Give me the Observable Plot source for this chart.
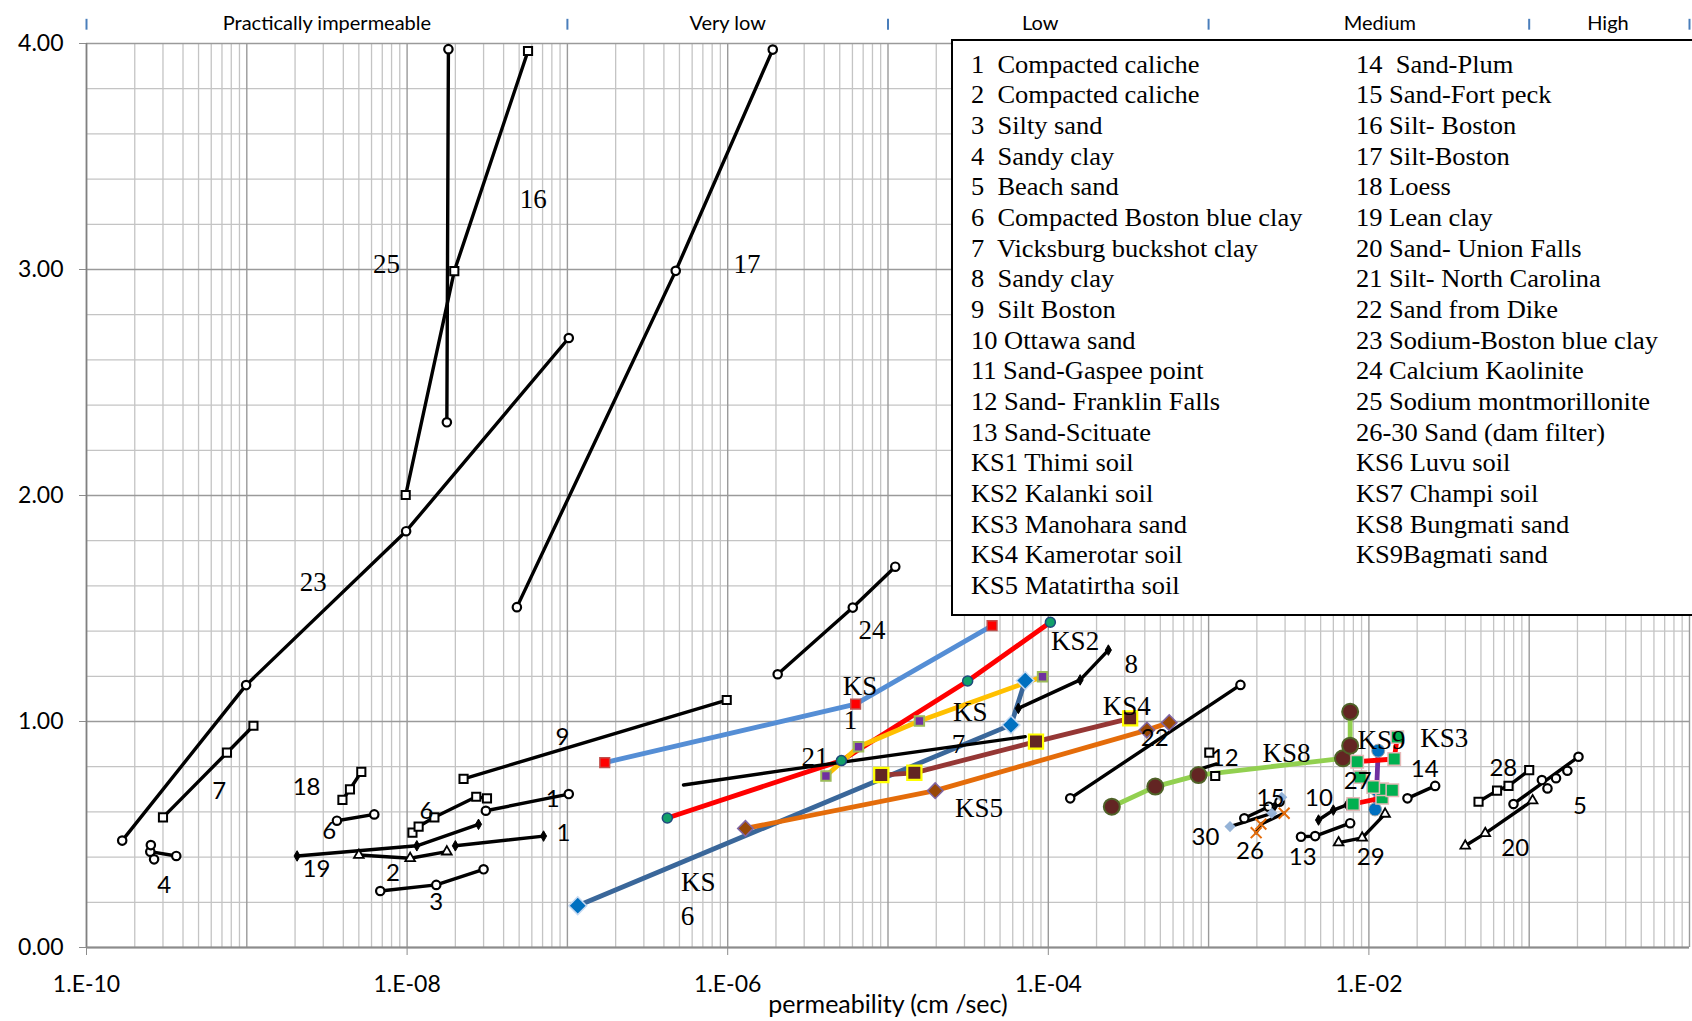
<!DOCTYPE html>
<html><head><meta charset="utf-8">
<script src="https://cdn.jsdelivr.net/npm/d3@7"></script>
<script src="https://cdn.jsdelivr.net/npm/@observablehq/plot@0.6"></script>
<style>
html,body{margin:0;padding:0;background:#fff;}
#wrap{position:relative;width:1692px;height:1021px;overflow:hidden;}
#legend{position:absolute;left:951px;top:39px;width:760px;height:573px;border:2px solid #000;background:#fff;
  font-family:"Liberation Serif","Times New Roman",serif;font-size:24.5px;line-height:30.66px;color:#000;}
#legend .col{position:absolute;top:8.7px;white-space:pre;transform:scaleX(1.08);transform-origin:0 0;}
#chart svg g[aria-label="x-axis"] line, #chart svg g[aria-label="y-axis"] line,
#chart svg g[aria-label="x-axis tick"] path, #chart svg g[aria-label="y-axis tick"] path{stroke:#8c8c8c;}
</style></head><body>
<div id="wrap"><div id="chart"></div>
<div id="legend"><div class="col" id="lc" style="left:18px"></div><div class="col" id="rc" style="left:403px"></div></div>
</div>
<script>
// ---------- axis / band data ----------
const xTicks = [1e-10, 1e-8, 1e-6, 1e-4, 1e-2];
const yTicks = [0, 1, 2, 3, 4];
const bandEdges = [1e-10, 1e-7, 1e-5, 1e-3, 1e-1, 1];
const bandLabels = ["Practically impermeable", "Very low", "Low", "Medium", "High"];
const bandCenters = [3.16e-9, 1.0e-6, 8.9e-5, 1.17e-2, 0.31];

// ---------- series: [permeability (cm/s), y] ----------
const s1a = [[3.1e-8,0.605],[1.02e-7,0.679]];
const s1b = [[2.0e-8,0.450],[7.1e-8,0.493]];
const s2  = [[5.0e-9,0.409],[1.045e-8,0.395],[1.77e-8,0.424]];
const s3  = [[6.8e-9,0.250],[1.52e-8,0.277],[3.0e-8,0.346]];
const s4  = [[2.5e-10,0.424],[3.63e-10,0.405]];
const s4pts = [[2.52e-10,0.453],[2.64e-10,0.390]];
const s5  = [[0.0798,0.635],[0.203,0.844]];
const s5pts = [[0.120,0.741],[0.130,0.704],[0.147,0.749],[0.173,0.782]];
const s6a = [[3.65e-9,0.561],[6.24e-9,0.589]];
const s6b = [[1.08e-8,0.508],[1.18e-8,0.535],[1.48e-8,0.576],[2.70e-8,0.667],[3.15e-8,0.660]];
const s7  = [[3.0e-10,0.576],[7.52e-10,0.862],[1.10e-9,0.981]];
const s8  = [[6.5e-5,1.058],[1.58e-4,1.184],[2.37e-4,1.316]];
const s9  = [[2.25e-8,0.746],[9.86e-7,1.095]];
const s10 = [[4.85e-3,0.564],[6.0e-3,0.608],[7.3e-3,0.631]];
const s12 = [[7.87e-4,0.778],[1.12e-3,0.812]];
const s12pts = [[1.01e-3,0.862],[1.10e-3,0.759]];
const s13 = [[3.77e-3,0.490],[4.62e-3,0.493],[7.64e-3,0.550]];
const s14 = [[0.0174,0.660],[0.0259,0.715]];
const s15 = [[1.67e-3,0.572],[2.37e-3,0.623],[2.77e-3,0.645]];
const s16 = [[9.8e-9,2.002],[1.97e-8,2.993],[5.68e-8,3.967]];
const s17 = [[4.84e-8,1.506],[4.74e-7,2.994],[1.91e-6,3.973]];
const s18 = [[3.95e-9,0.653],[4.40e-9,0.700],[5.18e-9,0.777]];
const s19 = [[2.06e-9,0.405],[1.15e-8,0.450],[2.79e-8,0.545]];
const s20 = [[0.0399,0.450],[0.0532,0.505],[0.105,0.650]];
const s21 = [[5.3e-7,0.719],[2.29e-6,0.785],[7.18e-5,0.933]];
const s22 = [[1.37e-4,0.660],[1.58e-3,1.162]];
const s23 = [[1.67e-10,0.473],[9.9e-10,1.161],[9.86e-9,1.842],[1.02e-7,2.697]];
const s24 = [[2.05e-6,1.209],[6.03e-6,1.504],[1.11e-5,1.685]];
const s25 = [[1.81e-8,3.975],[1.77e-8,2.324]];
const s26 = [[1.98e-3,0.508],[2.12e-3,0.546],[2.96e-3,0.594]];
const s28 = [[0.0483,0.645],[0.0630,0.694],[0.0743,0.715],[0.100,0.785]];
const s29 = [[6.47e-3,0.464],[9.08e-3,0.485],[0.01262,0.591]];
const s30 = [[1.36e-3,0.535],[2.48e-3,0.594],[2.86e-3,0.665]];
const ks1 = [[1.71e-7,0.818],[6.28e-6,1.077],[4.46e-5,1.424]];
const ks2 = [[4.2e-7,0.573],[5.12e-6,0.827],[3.14e-5,1.179],[1.03e-4,1.439]];
const ks3a = [[8.45e-3,0.822],[0.01439,0.834],[0.01503,0.931]];
const ks3b = [[7.98e-3,0.635],[0.0121,0.662],[0.0121,0.700]];
const ks3pts = [[0.01064,0.710],[0.0140,0.696],[8.83e-3,0.754]];
const ks4 = [[9.08e-6,0.763],[1.46e-5,0.773],[8.38e-5,0.911],[3.24e-4,1.014]];
const ks5 = [[1.29e-6,0.527],[1.97e-5,0.694],[4.12e-4,0.962],[5.68e-4,0.995]];
const ks6 = [[1.16e-7,0.185],[5.85e-5,0.985],[7.18e-5,1.181]];
const ks7 = [[4.1e-6,0.759],[6.55e-6,0.888],[1.57e-5,1.002],[9.2e-5,1.198]];
const ks8 = [[2.49e-4,0.623],[4.65e-4,0.712],[8.65e-4,0.763],[6.89e-3,0.837],[7.64e-3,0.893],[7.64e-3,1.043]];
const ks9 = [[0.01143,0.871],[0.01117,0.697],[0.01092,0.611]];

// ---------- in-chart labels ----------
const serifLabels = [
  ["25",7.45e-9,3.023],["16",6.12e-8,3.309],["17",1.32e-6,3.023],["23",2.6e-9,1.614],
  ["24",7.96e-6,1.404],["21",3.5e-6,0.841],["8",3.29e-4,1.251],
  ["KS",6.7e-6,1.156],["1",5.83e-6,1.003],["KS2",1.47e-4,1.356],
  ["KS",3.26e-5,1.041],["7",2.75e-5,0.898],["KS4",3.09e-4,1.065],["KS5",3.7e-5,0.616],
  ["KS",6.56e-7,0.287],["6",5.62e-7,0.139],["KS8",3.06e-3,0.860],["KS9",0.0120,0.917],["KS3",0.0295,0.925]
];
const sansLabels = [
  ["9",9.3e-8,0.931],["7",6.73e-10,0.692],["4",3.05e-10,0.277],["18",2.36e-9,0.711],
  ["6",3.27e-9,0.516],["6",1.32e-8,0.602],["19",2.72e-9,0.344],["2",8.17e-9,0.330],
  ["3",1.52e-8,0.201],["1",8.09e-8,0.654],["1",9.46e-8,0.507],["22",4.61e-4,0.927],
  ["12",1.26e-3,0.836],["27",8.51e-3,0.735],["14",0.0223,0.790],["28",0.069,0.793],
  ["5",0.2075,0.626],["20",0.0818,0.439],["15",2.43e-3,0.659],["30",9.57e-4,0.487],
  ["26",1.81e-3,0.425],["10",4.88e-3,0.659],["13",3.86e-3,0.401],["29",0.01026,0.401]
];

// ---------- legend text ----------
const legendLeft = ["1  Compacted caliche","2  Compacted caliche","3  Silty sand","4  Sandy clay","5  Beach sand",
  "6  Compacted Boston blue clay","7  Vicksburg buckshot clay","8  Sandy clay","9  Silt Boston","10 Ottawa sand",
  "11 Sand-Gaspee point","12 Sand- Franklin Falls","13 Sand-Scituate","KS1 Thimi soil","KS2 Kalanki soil",
  "KS3 Manohara sand","KS4 Kamerotar soil","KS5 Matatirtha soil"];
const legendRight = ["14  Sand-Plum","15 Sand-Fort peck","16 Silt- Boston","17 Silt-Boston","18 Loess",
  "19 Lean clay","20 Sand- Union Falls","21 Silt- North Carolina","22 Sand from Dike","23 Sodium-Boston blue clay",
  "24 Calcium Kaolinite","25 Sodium montmorillonite","26-30 Sand (dam filter)","KS6 Luvu soil","KS7 Champi soil",
  "KS8 Bungmati sand","KS9Bagmati sand"];

// ---------- styles ----------
const X = d => d[0], Y = d => d[1];
const markerStyles = {
  circle: {symbol: "circle", r: 4.2, fill: "#fff", stroke: "#000", strokeWidth: 2.2},
  square: {symbol: "square", r: 4.6, fill: "#fff", stroke: "#000", strokeWidth: 2},
  arrow:  {symbol: "diamond", r: 3.2, fill: "#000", stroke: "#000", strokeWidth: 1},
  tri:    {symbol: "triangle", r: 3.6, fill: "#fff", stroke: "#000", strokeWidth: 1.8}
};
const blackDefs = [
  [s1a,"circle"],[s1b,"arrow"],[s2,"tri"],[s3,"circle"],[s4,"circle"],[s5,"circle"],[s6a,"circle"],
  [s6b,"square"],[s7,"square"],[s8,"arrow"],[s9,"square"],[s10,"arrow"],[s12,null],[s13,"circle"],
  [s14,"circle"],[s15,"circle"],[s16,"square"],[s17,"circle"],[s18,"square"],[s19,"arrow"],[s20,"tri"],
  [s21,null],[s22,"circle"],[s23,"circle"],[s24,"circle"],[s25,"circle"],[s26,null],[s28,"square"],
  [s29,"tri"],[s30,null]
];
const ksDefs = [
  {d: ks1, line: "#558ed5", m: {symbol: "square", r: 5.5, fill: "#ff0000", stroke: "#c0504d", strokeWidth: 1.5}},
  {d: ks2, line: "#ff0000", m: {symbol: "circle", r: 5, fill: "#12a06a", stroke: "#1f497d", strokeWidth: 1.5}},
  {d: ks7, line: "#ffc000", m: {symbol: "square", r: 5.3, fill: "#7030a0", stroke: "#9bbb59", strokeWidth: 2}},
  {d: ks6, line: "#3a679a", m: {symbol: "diamond2", r: 8, fill: "#0070c0", stroke: "#c6d9f1", strokeWidth: 1.5}},
  {d: ks4, line: "#953735", m: {symbol: "square", r: 8, fill: "#632523", stroke: "#ffff00", strokeWidth: 2.2}},
  {d: ks5, line: "#e46c0a", m: {symbol: "diamond2", r: 7, fill: "#984807", stroke: "#8064a2", strokeWidth: 1.5}},
  {d: ks8, line: "#92d050", m: {symbol: "circle", r: 8, fill: "#632523", stroke: "#4f6228", strokeWidth: 2}},
  {d: ks9, line: "#7030a0", m: {symbol: "circle", r: 6.5, fill: "#0070c0", stroke: "#a6a6a6", strokeWidth: 1}},
  {d: ks3a, line: "#ff0000", m: {symbol: "square", r: 7, fill: "#00b050", stroke: "#e6b9b8", strokeWidth: 1.5}},
  {d: ks3b, line: "#ff0000", m: {symbol: "square", r: 7, fill: "#00b050", stroke: "#e6b9b8", strokeWidth: 1.5}}
];

// ---------- grid values ----------
const decades = d3.range(-10, 1).map(e => Math.pow(10, e));
const minorX = d3.range(-10, 0).flatMap(e => d3.range(2, 10).map(m => m * Math.pow(10, e)));
const minorY = d3.range(1, 20).filter(i => i % 5 !== 0).map(i => i / 5);

const fmtX = d => "1.E-" + String(Math.round(-Math.log10(d))).padStart(2, "0");
const SANS = "Lato, 'Open Sans', sans-serif";
const SERIF = "'Liberation Serif', 'Times New Roman', serif";

const marks = [
  Plot.ruleX(minorX, {stroke: "#c4c4c4", strokeWidth: 1.3}),
  Plot.ruleY(minorY, {stroke: "#c4c4c4", strokeWidth: 1.3}),
  Plot.ruleX(decades, {stroke: "#9a9a9a", strokeWidth: 1.4}),
  Plot.ruleY(yTicks, {stroke: "#9a9a9a", strokeWidth: 1.4}),
  Plot.ruleX([1e-10], {stroke: "#808080", strokeWidth: 1.6}),
  Plot.ruleY([0], {stroke: "#8c8c8c", strokeWidth: 2}),
  // permeability class bands
  Plot.ruleX(bandEdges, {y1: 4.059, y2: 4.107, stroke: "#4a7ebb", strokeWidth: 2}),
  Plot.text(bandLabels, {x: (d, i) => bandCenters[i], text: d => d, frameAnchor: "top", dy: -28,
    fontSize: 20, fontFamily: SANS, fill: "#000"}),
  // axis title
  Plot.text(["permeability (cm /sec)"], {text: d => d, frameAnchor: "bottom", dy: 65,
    fontSize: 25, fontFamily: SANS, fill: "#000"})
];
for (const s of ksDefs) marks.push(Plot.line(s.d, {x: X, y: Y, stroke: s.line, strokeWidth: 4.8}));
for (const [d] of blackDefs) marks.push(Plot.line(d, {x: X, y: Y, stroke: "#000", strokeWidth: 3.4}));
for (const [d, m] of blackDefs) if (m) marks.push(Plot.dot(d, {x: X, y: Y, ...markerStyles[m]}));
marks.push(Plot.dot(s4pts, {x: X, y: Y, ...markerStyles.circle}));
marks.push(Plot.dot(s5pts, {x: X, y: Y, ...markerStyles.circle}));
marks.push(Plot.dot(s12pts, {x: X, y: Y, ...markerStyles.square}));
marks.push(Plot.dot(s26, {x: X, y: Y, symbol: "times", r: 5, stroke: "#e46c0a", strokeWidth: 2}));
marks.push(Plot.dot(s30, {x: X, y: Y, symbol: "diamond2", r: 5, fill: "#95b3d7", stroke: "none"}));
for (const s of ksDefs) marks.push(Plot.dot(s.d, {x: X, y: Y, ...s.m}));
marks.push(Plot.dot(ks3pts, {x: X, y: Y, ...ksDefs[8].m}));
marks.push(Plot.text(serifLabels, {x: d => d[1], y: d => d[2], text: d => d[0], fontSize: 27,
  fontFamily: SERIF, fill: "#000"}));
marks.push(Plot.text(sansLabels, {x: d => d[1], y: d => d[2], text: d => d[0], fontSize: 24,
  fontFamily: SANS, fill: "#000"}));

const chart = Plot.plot({
  width: 1692, height: 1021,
  marginTop: 43, marginBottom: 74, marginLeft: 86, marginRight: 3,
  style: {fontFamily: SANS, fontSize: "23px", background: "#fff", color: "#000", overflow: "visible"},
  x: {type: "log", domain: [1e-10, 1], ticks: xTicks, tickFormat: fmtX, tickSize: 8, tickPadding: 20, label: null},
  y: {domain: [0, 4], ticks: yTicks, tickFormat: d => d.toFixed(2), tickSize: 7, tickPadding: 16, label: null},
  marks
});
document.getElementById("chart").appendChild(chart);

document.getElementById("lc").textContent = legendLeft.join("\n");
document.getElementById("rc").textContent = legendRight.join("\n");
</script>
</body></html>
